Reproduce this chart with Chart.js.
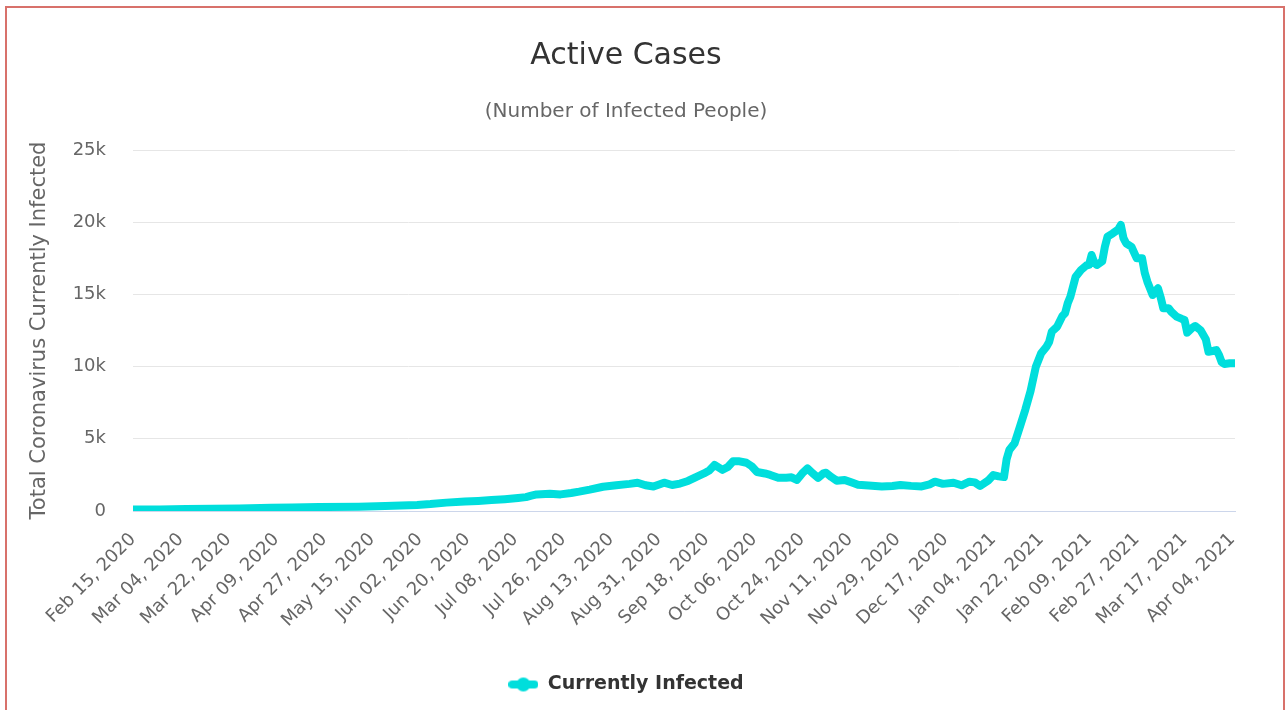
<!DOCTYPE html>
<html>
<head>
<meta charset="utf-8">
<script src="https://cdn.jsdelivr.net/npm/chart.js@4.4.1/dist/chart.umd.min.js"></script>
<style>
  html, body { margin: 0; padding: 0; background: #ffffff; overflow: hidden; }
  #wrap { position: relative; width: 1288px; height: 710px; }
  #frame { position: absolute; left: 5px; top: 6px; width: 1276px; height: 720px;
           border: 2px solid #d8716b; border-bottom: none; pointer-events: none; }
  canvas { position: absolute; left: 0; top: 0; }
</style>
</head>
<body>
<div id="wrap">
  <canvas id="c" width="1288" height="710"></canvas>
  <div id="frame"></div>
</div>
<script>
// ---- data (days since Feb 15, 2020 and active cases) ----
const dayIndex = [
  0, 10, 20, 30, 40, 52, 60, 70, 85, 95, 107, 112, 118, 125, 130, 135, 140, 145, 148, 150,
  152, 157, 161, 165, 168, 172, 177, 182, 187, 190, 193, 196, 200, 203, 206, 209, 212, 215, 217, 219,
  222, 224, 226, 228, 231, 233, 235, 238, 240, 243, 246, 248, 250, 252, 254, 256, 258, 260, 261, 263,
  265, 268, 271, 273, 277, 282, 286, 289, 293, 297, 300, 302, 305, 309, 312, 315, 317, 319, 322, 324,
  326, 328, 329, 330, 332, 334, 336, 338, 340, 342, 344, 345, 346, 348, 350, 351, 352, 353, 355, 357,
  359, 360, 361, 362, 363, 365, 366, 367, 369, 371, 372, 373, 374, 376, 378, 380, 381, 382, 384, 386,
  387, 388, 390, 391, 393, 395, 396, 397, 399, 400, 402, 404, 405, 407, 408, 409, 410, 411, 413, 415
];
const activeCases = [
  100, 110, 130, 150, 180, 230, 250, 270, 300, 340, 420, 480, 580, 650, 700, 760, 820, 900, 960, 1060,
  1150, 1200, 1150, 1250, 1340, 1480, 1680, 1780, 1880, 1960, 1780, 1700, 1960, 1800, 1900, 2080, 2350, 2600, 2800, 3190,
  2850, 3050, 3450, 3450, 3340, 3100, 2700, 2600, 2500, 2300, 2300, 2330, 2150, 2600, 2950, 2600, 2300, 2600, 2650, 2350,
  2100, 2150, 1950, 1820, 1760, 1700, 1730, 1800, 1740, 1700, 1850, 2030, 1880, 1960, 1780, 2030, 1980, 1730, 2100, 2490,
  2400, 2350, 3600, 4220, 4690, 5840, 7000, 8300, 9990, 10920, 11380, 11700, 12420, 12760, 13500, 13690, 14380, 14840, 16230, 16690,
  17000, 17040, 17730, 17200, 17040, 17300, 18300, 19000, 19230, 19500, 19810, 18900, 18540, 18300, 17500, 17500, 16500, 15880, 14960, 15420,
  14800, 14040, 14040, 13800, 13460, 13300, 13230, 12350, 12700, 12810, 12530, 11900, 11030, 11100, 11150, 10800, 10300, 10180, 10230, 10230
];
const xTickLabels = [
  'Feb 15, 2020', 'Mar 04, 2020', 'Mar 22, 2020', 'Apr 09, 2020', 'Apr 27, 2020', 'May 15, 2020',
  'Jun 02, 2020', 'Jun 20, 2020', 'Jul 08, 2020', 'Jul 26, 2020', 'Aug 13, 2020', 'Aug 31, 2020',
  'Sep 18, 2020', 'Oct 06, 2020', 'Oct 24, 2020', 'Nov 11, 2020', 'Nov 29, 2020', 'Dec 17, 2020',
  'Jan 04, 2021', 'Jan 22, 2021', 'Feb 09, 2021', 'Feb 27, 2021', 'Mar 17, 2021', 'Apr 04, 2021'
];
const yTickLabels = ['0', '5k', '10k', '15k', '20k', '25k'];
const seriesName = 'Currently Infected';

const lineColor = '#00dedc';
const fontFamily = '"DejaVu Sans", Verdana, sans-serif';

// legend symbol: line with a circle
const sym = document.createElement('canvas');
sym.width = 30; sym.height = 16;
(function () {
  const g = sym.getContext('2d');
  g.strokeStyle = lineColor; g.lineWidth = 8; g.lineCap = 'round';
  g.beginPath(); g.moveTo(4, 8); g.lineTo(26, 8); g.stroke();
  g.fillStyle = lineColor; g.beginPath(); g.arc(15, 8, 7, 0, Math.PI * 2); g.fill();
})();

const points = dayIndex.map((d, i) => ({ x: d, y: activeCases[i] }));

new Chart(document.getElementById('c'), {
  type: 'line',
  data: {
    datasets: [{
      label: seriesName,
      data: points,
      borderColor: lineColor,
      backgroundColor: lineColor,
      borderWidth: 8,
      pointRadius: 0,
      pointHoverRadius: 0,
      tension: 0,
      borderJoinStyle: 'round',
      borderCapStyle: 'round',
      fill: false
    }]
  },
  options: {
    responsive: false,
    animation: false,
    devicePixelRatio: 1,
    layout: { padding: { top: 10, left: 17, right: 53, bottom: 6 } },
    plugins: {
      title: {
        display: true, text: 'Active Cases', color: '#333333',
        font: { family: fontFamily, size: 30, weight: 'normal' },
        padding: { top: 28, bottom: 0 }
      },
      subtitle: {
        display: true, text: '(Number of Infected People)', color: '#666666',
        font: { family: fontFamily, size: 20, weight: 'normal' },
        padding: { top: 26, bottom: 26 }
      },
      legend: {
        display: true, position: 'bottom',
        labels: {
          usePointStyle: true, pointStyle: sym, pointStyleWidth: 30,
          color: '#333333', padding: 10,
          font: { family: fontFamily, size: 19, weight: 'bold' }
        }
      },
      tooltip: { enabled: false }
    },
    scales: {
      x: {
        type: 'linear', min: 0, max: 415,
        grid: { display: false },
        border: { display: true, color: '#ccd6eb', width: 1 },
        ticks: {
          stepSize: 18, includeBounds: false, autoSkip: false,
          minRotation: 45, maxRotation: 45, padding: 10,
          color: '#666666', font: { family: fontFamily, size: 18 },
          callback: (v) => (v % 18 === 0 ? xTickLabels[v / 18] : '')
        },
        afterFit: (s) => { s.height = 154; }
      },
      y: {
        min: 0, max: 25000,
        grid: { color: '#e6e6e6', lineWidth: 1, drawTicks: false },
        border: { display: false },
        ticks: {
          stepSize: 5000, padding: 27, color: '#666666',
          font: { family: fontFamily, size: 18 },
          callback: (v) => yTickLabels[v / 5000]
        },
        title: {
          display: true, text: 'Total Coronavirus Currently Infected', color: '#666666',
          font: { family: fontFamily, size: 21 }, padding: { top: 10, bottom: 0 }
        },
        afterFit: (s) => { s.width = 116; }
      }
    }
  }
});
</script>
</body>
</html>
